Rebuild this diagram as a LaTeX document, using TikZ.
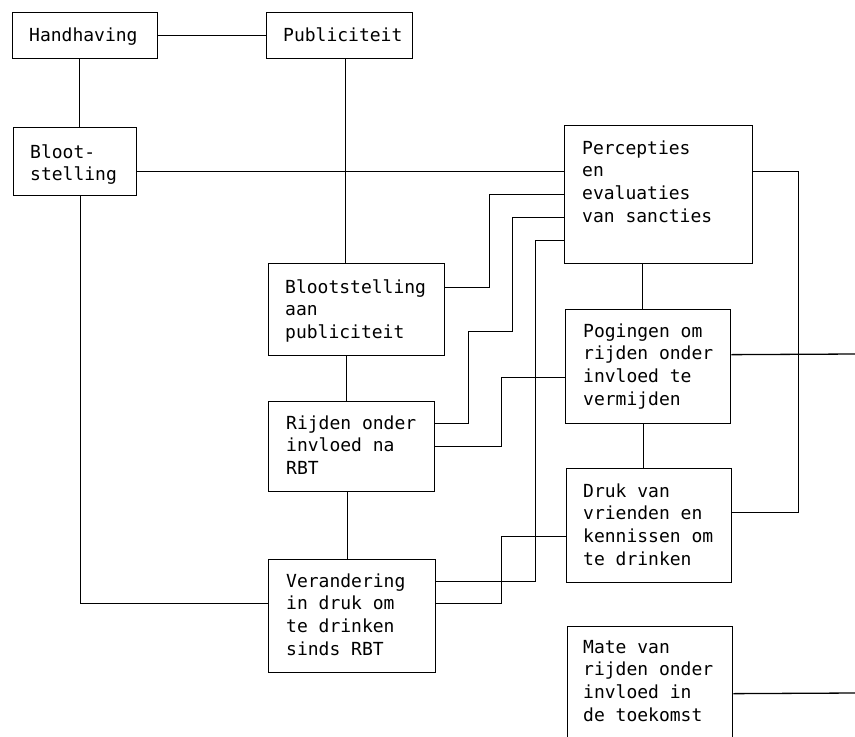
\documentclass[tikz,border=0pt]{standalone}
\usepackage{fontspec}
\newfontfamily\dmono{DejaVu Sans Mono}
\newcommand{\tb}[1]{\begin{tabular}[t]{@{}l@{}}#1\end{tabular}}
\tikzset{
  box/.style={draw, line width=1.3pt, anchor=north west, inner sep=0pt},
  lbl/.style={anchor=base west, inner sep=0pt, font=\dmono\fontsize{18}{22.7}\selectfont},
  conn/.style={line width=1.3pt}
}
\begin{document}
\begin{tikzpicture}[x=1pt,y=-1pt]
\clip (0,0) rectangle (855,737);
\fill[white] (0,0) rectangle (855,737);
% boxes
\node[box, minimum width=145pt, minimum height=46pt] (hand) at (12,12) {};
\node[box, minimum width=146pt, minimum height=46pt] (pub) at (266,12) {};
\node[box, minimum width=123pt, minimum height=68pt] (bloot) at (13,127) {};
\node[box, minimum width=188pt, minimum height=138pt] (perc) at (564,125) {};
\node[box, minimum width=176pt, minimum height=92pt] (bpub) at (268,263) {};
\node[box, minimum width=166pt, minimum height=90pt] (rijden) at (268,401) {};
\node[box, minimum width=167pt, minimum height=113pt] (verand) at (268,559) {};
\node[box, minimum width=165pt, minimum height=114pt] (pog) at (565,309) {};
\node[box, minimum width=165pt, minimum height=114pt] (druk) at (566,468) {};
\node[box, minimum width=165pt, minimum height=134pt] (mate) at (567,626) {};
% texts
\node[lbl] (handT) at (29,41) {\tb{Handhaving}};
\node[lbl] (pubT) at (283,41) {\tb{Publiciteit}};
\node[lbl] (blootT) at (30,158) {\tb{Bloot-\\stelling}};
\node[lbl] (percT) at (582,154) {\tb{Percepties\\en\\evaluaties\\van sancties}};
\node[lbl] (bpubT) at (285,293) {\tb{Blootstelling\\aan\\publiciteit}};
\node[lbl] (rijdenT) at (286,429) {\tb{Rijden onder\\invloed na\\RBT}};
\node[lbl] (verandT) at (286,587) {\tb{Verandering\\in druk om\\te drinken\\sinds RBT}};
\node[lbl] (pogT) at (583,337) {\tb{Pogingen om\\rijden onder\\invloed te\\vermijden}};
\node[lbl] (drukT) at (583,497) {\tb{Druk van\\vrienden en\\kennissen om\\te drinken}};
\node[lbl] (mateT) at (583,653) {\tb{Mate van\\rijden onder\\invloed in\\de toekomst}};
% free ends
\coordinate (pogEnd) at (856,354);
\coordinate (mateEnd) at (856,693);
% connectors
\draw[conn] (hand.east) -- (pub.west);
\draw[conn] ([xshift=-5.5pt]hand.south) -- ([xshift=-5.5pt]hand.south |- bloot.north);
\draw[conn] ([xshift=6pt]pub.south) -- ([xshift=6pt]pub.south |- bpub.north);
\draw[conn] ([yshift=23pt]perc.west) -- ([yshift=23pt]perc.west -| bloot.east);
\draw[conn] ([yshift=22pt]bpub.east) -- ++(44,0) |- (perc.west);
\draw[conn] ([yshift=23pt]rijden.east) -- ++(33,0) -- ++(0,-92) -- ++(44,0) |- ([yshift=-23pt]perc.west);
\draw[conn] (rijden.east) -- ++(66,0) |- ([yshift=-11pt]pog.west);
\draw[conn] ([yshift=34.5pt]verand.east) -- ++(99,0) |- ([yshift=-46pt]perc.west);
\draw[conn] ([yshift=12.5pt]verand.east) -- ++(65,0) |- ([yshift=-11pt]druk.west);
\draw[conn] ([xshift=5.5pt]bloot.south) |- ([yshift=12.5pt]verand.west);
\draw[conn] ([xshift=-10pt]bpub.south) -- ([xshift=-10pt]bpub.south |- rijden.north);
\draw[conn] ([xshift=-4pt]rijden.south) -- ([xshift=-4pt]rijden.south |- verand.north);
\draw[conn] ([xshift=-16pt]perc.south) -- ([xshift=-16pt]perc.south |- pog.north);
\draw[conn] ([xshift=-4.5pt]pog.south) -- ([xshift=-4.5pt]pog.south |- druk.north);
\draw[conn] ([yshift=23pt]perc.east) -- ++(45,0) |- ([yshift=13pt]druk.east);
\draw[conn] ([yshift=12pt]pog.east) -- (pogEnd);
\draw[conn] (mate.east) -- (mateEnd);
\end{tikzpicture}
\end{document}
